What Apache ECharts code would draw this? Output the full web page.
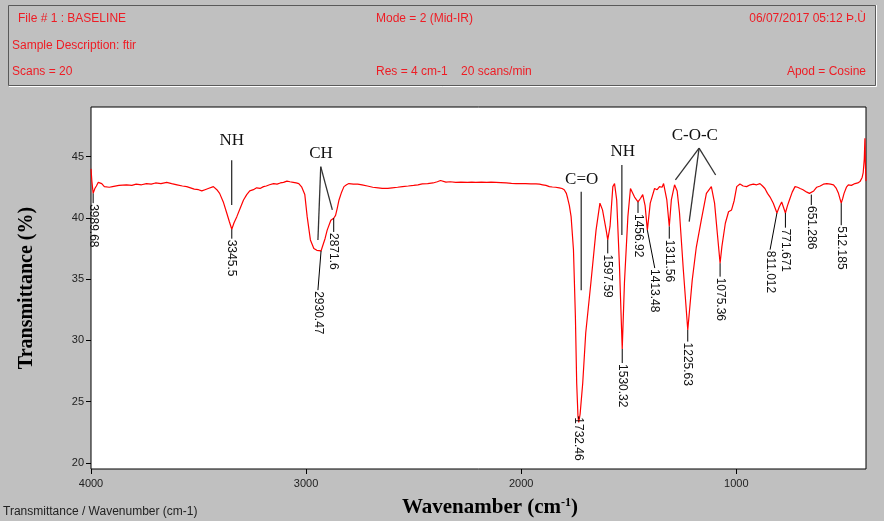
<!DOCTYPE html>
<html>
<head>
<meta charset="utf-8">
<script src="https://cdn.jsdelivr.net/npm/echarts@6/dist/echarts.min.js"></script>
<style>
html, body { margin: 0; padding: 0; background: #c0c0c0; }
#chart { width: 884px; height: 521px; }
</style>
</head>
<body>
<div id="chart"></div>
<script>
// spectrum: wavenumber (cm-1) / transmittance (%)
const wavenumber = [
    4000, 3996, 3990, 3982, 3975, 3966, 3950, 3938, 3929, 3915, 3900, 3870, 3835, 3810, 3790, 3765,
    3742, 3720, 3700, 3675, 3648, 3625, 3600, 3575, 3555, 3520, 3500, 3485, 3470, 3455, 3431, 3415,
    3402, 3385, 3369, 3357, 3345.5, 3335, 3322, 3306, 3291, 3276, 3262, 3245, 3230, 3214, 3198, 3185,
    3170, 3151, 3135, 3120, 3105, 3089, 3075, 3060, 3046, 3034, 3020, 3006, 2995, 2980, 2964, 2950,
    2930.47, 2925, 2912, 2902, 2885, 2871.6, 2863, 2855, 2847, 2835, 2824, 2812, 2801, 2780, 2760, 2740,
    2715, 2690, 2665, 2646, 2620, 2600, 2575, 2552, 2525, 2500, 2480, 2460, 2435, 2410, 2390, 2375,
    2366, 2350, 2330, 2304, 2280, 2250, 2230, 2211, 2185, 2160, 2140, 2117, 2095, 2070, 2045, 2024,
    2000, 1980, 1955, 1931, 1915, 1900, 1885, 1869, 1855, 1840, 1823, 1810, 1800, 1790, 1784, 1776,
    1768, 1757, 1748, 1742, 1736, 1732.46, 1726, 1714, 1700, 1676, 1652, 1634, 1622, 1605, 1597.59, 1587,
    1574, 1566, 1556, 1543, 1530.32, 1520, 1504, 1492, 1473, 1456.92, 1445, 1435, 1424, 1413.48, 1400, 1380,
    1368, 1357, 1345, 1338, 1323, 1311.56, 1302, 1287, 1275, 1264, 1246, 1225.63, 1205, 1186, 1163, 1139,
    1116, 1101, 1088, 1075.36, 1067, 1051, 1036, 1022, 1010, 998, 983, 968, 952, 935, 921, 905,
    890, 878, 867, 855, 843, 828, 811.012, 800, 789, 771.671, 762, 753, 740, 727, 715, 703,
    690, 672, 660, 651.286, 640, 626, 610, 595, 579, 562, 548, 535, 525, 512.185, 505, 499,
    488, 479, 465, 448, 435, 425, 415, 410, 405, 402, 400, 397
];
const transmittance = [
    44.0, 43.0, 42.0, 42.4, 42.6, 42.9, 42.8, 42.55, 42.4, 42.5, 42.55, 42.65, 42.7, 42.65, 42.75, 42.7,
    42.8, 42.75, 42.85, 42.8, 42.9, 42.8, 42.7, 42.6, 42.55, 42.35, 42.3, 42.2, 42.3, 42.4, 42.55, 42.3,
    42.0, 41.3, 40.4, 39.7, 39.07, 39.6, 40.1, 40.8, 41.46, 41.9, 42.2, 42.3, 42.45, 42.4, 42.55, 42.6,
    42.7, 42.8, 42.75, 42.85, 42.9, 43.0, 42.95, 42.9, 42.85, 42.8, 42.5, 41.9, 40.1, 38.2, 37.5, 37.35,
    37.3, 37.6, 38.3, 39.0, 39.8, 39.97, 40.2, 40.8, 41.46, 42.1, 42.55, 42.7, 42.8, 42.75, 42.75, 42.7,
    42.6, 42.5, 42.45, 42.4, 42.4, 42.45, 42.5, 42.55, 42.6, 42.65, 42.7, 42.77, 42.8, 42.85, 42.95, 43.05,
    43.0, 42.92, 42.95, 42.9, 42.92, 42.9, 42.92, 42.9, 42.92, 42.9, 42.92, 42.9, 42.88, 42.85, 42.82, 42.8,
    42.8, 42.8, 42.78, 42.77, 42.75, 42.7, 42.65, 42.55, 42.52, 42.5, 42.45, 42.4, 42.3, 42.0, 41.6, 41.0,
    40.1, 37.4, 31.9, 26.5, 23.8, 23.3, 24.0, 26.5, 30.6, 34.7, 39.0, 41.2, 40.65, 39.0, 38.2, 39.3,
    42.55, 42.8, 41.46, 36.0, 29.3, 34.7, 40.1, 42.4, 41.7, 41.3, 41.6, 41.9, 41.0, 39.0, 41.2, 42.4,
    42.3, 42.55, 42.5, 42.8, 41.46, 39.3, 41.46, 42.7, 42.2, 40.4, 35.7, 30.85, 34.9, 37.6, 39.8, 42.0,
    42.55, 41.2, 38.7, 36.3, 37.65, 39.56, 40.5, 40.65, 41.4, 42.55, 42.77, 42.6, 42.55, 42.7, 42.75, 42.7,
    42.8, 42.6, 42.4, 42.0, 41.7, 41.2, 40.4, 40.9, 41.3, 40.4, 41.0, 41.46, 42.1, 42.55, 42.5, 42.4,
    42.3, 42.1, 42.0, 41.9, 42.2, 42.5, 42.6, 42.75, 42.8, 42.75, 42.7, 42.4, 42.0, 41.2, 41.6, 42.0,
    42.5, 42.7, 42.65, 42.8, 42.85, 42.96, 43.3, 43.7, 44.8, 46.5, 44.5, 43.0
];

// peak labels: curve point -> end of leader, text rotated below
const peakNames = ['3989.68', '3345.5', '2930.47', '2871.6', '1732.46', '1597.59', '1530.32', '1456.92',
    '1413.48', '1311.56', '1225.63', '1075.36', '811.012', '771.671', '651.286', '512.185'];
const peakWn = [3990, 3345.5, 2930.47, 2871.6, 1732.46, 1597.59, 1530.32, 1456.92,
    1413.48, 1311.56, 1225.63, 1075.36, 811.012, 771.671, 651.286, 512.185];
const peakT = [42.0, 39.07, 37.3, 39.97, 23.6, 38.2, 29.3, 41.3, 39.0, 39.3, 30.85, 36.3, 40.4, 40.4, 41.9, 41.2];
const leaderWn = [3990, 3345.5, 2945, 2871.6, 1732.46, 1597.59, 1530.32, 1456.92,
    1379, 1311.56, 1225.63, 1075.36, 843, 771.671, 651.286, 512.185];
const leaderT = [41.2, 38.3, 34.1, 38.85, 23.8, 37.1, 28.15, 40.4, 35.9, 38.3, 29.9, 35.2, 37.4, 39.2, 41.05, 39.4];

// functional group labels and their pointer lines
const groupNames = ['NH', 'CH', 'C=O', 'NH', 'C-O-C'];
const groupWn = [3346, 2931, 1719, 1528, 1193];
const groupT = [46.28, 45.22, 43.1, 45.38, 46.69];
const groupLines = [
    [3346, 44.7, 3346, 41.05],
    [2932, 44.18, 2945, 38.19],
    [2932, 44.18, 2878, 40.65],
    [1721, 42.14, 1721, 34.1],
    [1532, 44.32, 1532, 38.6],
    [1173, 45.69, 1283, 43.1],
    [1173, 45.69, 1219, 39.7],
    [1173, 45.69, 1096, 43.5]
];

const yTicks = [20, 25, 30, 35, 40, 45];
const xTicks = [4000, 3000, 2000, 1000];

const headerLeft = ['File # 1 : BASELINE', 'Sample Description: ftir', 'Scans = 20'];
const headerMid = ['Mode = 2 (Mid-IR)', '', 'Res = 4 cm-1    20 scans/min'];
const headerRight = ['06/07/2017 05:12 Þ.Ù', '', 'Apod = Cosine'];

const chart = echarts.init(document.getElementById('chart'));

const red = '#ee1c24';
const sans = '12px Arial, "Liberation Sans"';
const serif = '"Liberation Serif", "Times New Roman", serif';
const headerRows = [20, 47, 73];
const headerText = [];
headerRows.forEach((y, i) => {
    headerText.push({ type: 'text', left: i === 0 ? 18 : 12, top: y - 7,
        style: { text: headerLeft[i], fill: red, font: sans } });
    if (headerMid[i]) {
        headerText.push({ type: 'text', left: 376, top: y - 7,
            style: { text: headerMid[i], fill: red, font: sans } });
    }
    if (headerRight[i]) {
        headerText.push({ type: 'text', right: 18, top: y - 7,
            style: { text: headerRight[i], fill: red, font: sans } });
    }
});

const curve = wavenumber.map((w, i) => [w, transmittance[i]]);
const peaks = peakNames.map((n, i) => [peakWn[i], peakT[i], leaderWn[i], leaderT[i], n]);
const groups = groupNames.map((n, i) => [groupWn[i], groupT[i], n]);

function renderPeak(params, api) {
    const a = api.coord([api.value(0), api.value(1)]);
    const b = api.coord([api.value(2), api.value(3)]);
    return {
        type: 'group',
        children: [
            { type: 'line', shape: { x1: a[0], y1: a[1], x2: b[0], y2: b[1] },
              style: { stroke: '#000', lineWidth: 1 } },
            { type: 'text', x: b[0], y: b[1] + 1, rotation: -Math.PI / 2,
              style: { text: peaks[params.dataIndex][4], fill: '#111', font: sans,
                       align: 'left', verticalAlign: 'middle' } }
        ]
    };
}

function renderGroupLine(params, api) {
    const a = api.coord([api.value(0), api.value(1)]);
    const b = api.coord([api.value(2), api.value(3)]);
    return { type: 'line', shape: { x1: a[0], y1: a[1], x2: b[0], y2: b[1] },
             style: { stroke: '#333', lineWidth: 1.3 } };
}

function renderGroupName(params, api) {
    const p = api.coord([api.value(0), api.value(1)]);
    return { type: 'text', x: p[0], y: p[1],
             style: { text: groups[params.dataIndex][2], fill: '#111', font: '17px ' + serif,
                      align: 'center', verticalAlign: 'middle' } };
}

chart.setOption({
    backgroundColor: '#c0c0c0',
    animation: false,
    grid: { left: 91, right: 18, top: 107, bottom: 52, show: true,
            backgroundColor: '#fff', borderColor: '#000', borderWidth: 1 },
    xAxis: {
        type: 'value', inverse: true, min: 397, max: 4000,
        axisLine: { show: false },
        splitLine: { show: false },
        axisTick: { show: true, length: 5, customValues: xTicks, lineStyle: { color: '#000' } },
        axisLabel: { customValues: xTicks, margin: 9, color: '#222', fontSize: 11,
                     fontFamily: 'Arial, "Liberation Sans"', formatter: (v) => String(v) }
    },
    yAxis: {
        type: 'value', min: 19.5, max: 49.05,
        axisLine: { show: false },
        splitLine: { show: false },
        axisTick: { show: true, length: 5, customValues: yTicks, lineStyle: { color: '#000' } },
        axisLabel: { customValues: yTicks, margin: 7, color: '#222', fontSize: 11,
                     fontFamily: 'Arial, "Liberation Sans"' }
    },
    graphic: [
        { type: 'rect', shape: { x: 8.5, y: 5.5, width: 867, height: 80 },
          style: { fill: '#c0c0c0', stroke: '#5a5a5a', lineWidth: 1 } },
        { type: 'polyline', shape: { points: [[9, 86.5], [876.5, 86.5], [876.5, 5]] },
          style: { stroke: '#fff', lineWidth: 1, fill: null } },
        ...headerText,
        { type: 'text', x: 27, y: 288, rotation: Math.PI / 2,
          style: { text: 'Transmittance (%)', fill: '#000', font: 'bold 20px ' + serif,
                   align: 'center', verticalAlign: 'middle' } },
        { type: 'text', x: 490, y: 508,
          style: { text: '{a|Wavenamber (cm}{b|-1}{a|)}', align: 'center', verticalAlign: 'middle',
                   rich: {
                       a: { font: 'bold 21px ' + serif, fill: '#000' },
                       b: { font: 'bold 12px ' + serif, fill: '#000',
                            verticalAlign: 'top', padding: [0, 0, 10, 0] }
                   } } },
        { type: 'text', left: 3, top: 506,
          style: { text: 'Transmittance / Wavenumber (cm-1)', fill: '#222', font: sans } }
    ],
    series: [
        { type: 'line', data: curve, showSymbol: false, symbol: 'none',
          lineStyle: { color: '#ff0000', width: 1.2 }, z: 3 },
        { type: 'custom', data: peaks, renderItem: renderPeak, encode: { x: [0, 2], y: [1, 3] }, z: 4 },
        { type: 'custom', data: groupLines, renderItem: renderGroupLine, encode: { x: [0, 2], y: [1, 3] }, z: 4 },
        { type: 'custom', data: groups, renderItem: renderGroupName, encode: { x: 0, y: 1 }, z: 4 }
    ]
});
</script>
</body>
</html>
